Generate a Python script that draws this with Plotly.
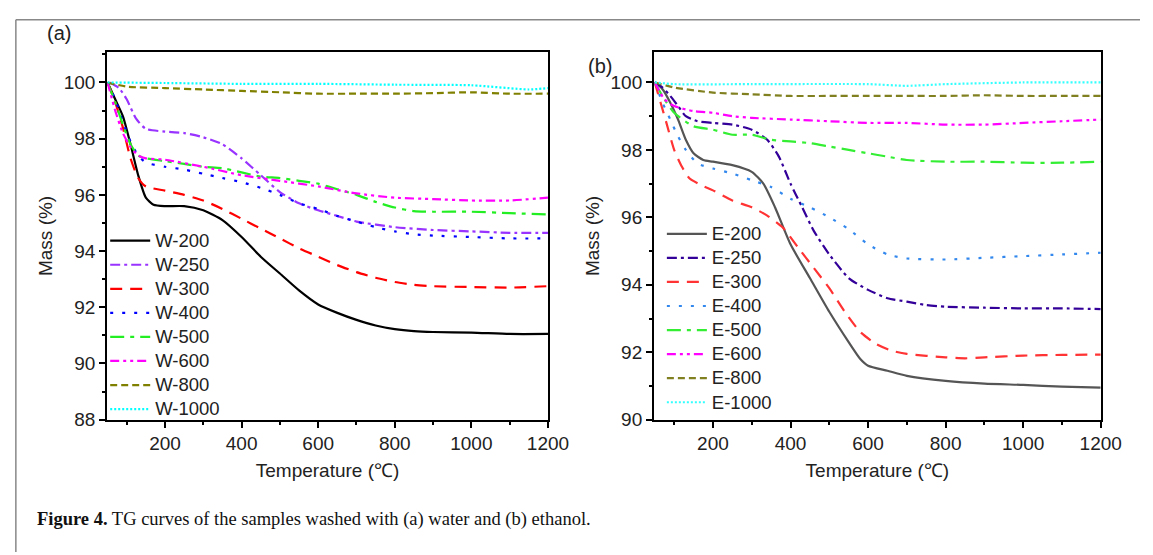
import plotly.graph_objects as go

# ---------------- data (a) water-washed ----------------
w200_t = [50, 70, 90, 110, 130, 150, 170, 200, 250, 300, 350, 400, 450, 500, 550, 600, 650, 700, 750, 800, 850, 900, 1000, 1100, 1200]
w200_m = [100, 99.4, 98.8, 97.8, 96.7, 95.9, 95.65, 95.6, 95.6, 95.45, 95.1, 94.5, 93.8, 93.2, 92.6, 92.1, 91.8, 91.55, 91.35, 91.22, 91.15, 91.12, 91.1, 91.05, 91.05]

w250_t = [55, 80, 100, 125, 150, 200, 250, 300, 350, 400, 450, 500, 550, 600, 650, 700, 800, 900, 1000, 1100, 1200]
w250_m = [100, 99.8, 99.4, 98.7, 98.35, 98.25, 98.2, 98.05, 97.8, 97.3, 96.7, 96.1, 95.7, 95.45, 95.25, 95.05, 94.85, 94.75, 94.7, 94.65, 94.65]

w300_t = [50, 70, 90, 110, 130, 150, 200, 250, 300, 350, 400, 450, 500, 550, 600, 650, 700, 750, 800, 850, 900, 1000, 1100, 1200]
w300_m = [100, 99.3, 98.4, 97.3, 96.6, 96.3, 96.15, 96.0, 95.8, 95.5, 95.15, 94.8, 94.45, 94.1, 93.8, 93.5, 93.25, 93.05, 92.9, 92.8, 92.75, 92.72, 92.7, 92.75]

w400_t = [50, 70, 90, 110, 130, 150, 200, 250, 300, 350, 400, 450, 500, 550, 600, 650, 700, 750, 800, 850, 900, 1000, 1100, 1200]
w400_m = [100, 99.4, 98.6, 97.9, 97.4, 97.15, 97.0, 96.9, 96.75, 96.6, 96.45, 96.25, 96.0, 95.7, 95.5, 95.25, 95.05, 94.85, 94.7, 94.6, 94.55, 94.5, 94.45, 94.45]

w500_t = [50, 70, 90, 110, 130, 150, 200, 250, 300, 350, 400, 450, 500, 550, 600, 650, 700, 750, 800, 850, 900, 1000, 1100, 1200]
w500_m = [100, 99.3, 98.5, 97.8, 97.4, 97.3, 97.2, 97.1, 97.0, 96.95, 96.8, 96.65, 96.6, 96.5, 96.4, 96.2, 96.0, 95.75, 95.55, 95.42, 95.4, 95.4, 95.35, 95.3]

w600_t = [50, 70, 90, 110, 130, 150, 200, 300, 400, 500, 600, 700, 800, 900, 1000, 1100, 1200]
w600_m = [100, 99.0, 98.2, 97.7, 97.4, 97.3, 97.25, 97.0, 96.7, 96.5, 96.3, 96.05, 95.9, 95.85, 95.8, 95.8, 95.9]

w800_t = [50, 100, 200, 300, 400, 500, 600, 700, 800, 900, 1000, 1100, 1200]
w800_m = [100, 99.85, 99.8, 99.75, 99.7, 99.65, 99.6, 99.6, 99.6, 99.62, 99.65, 99.6, 99.6]

w1000_t = [50, 200, 400, 600, 800, 1000, 1150, 1200]
w1000_m = [100, 99.98, 99.95, 99.95, 99.92, 99.9, 99.75, 99.8]

# ---------------- data (b) ethanol-washed ----------------
e200_t = [50, 70, 90, 110, 130, 150, 175, 200, 250, 300, 330, 360, 400, 450, 500, 550, 580, 600, 650, 700, 800, 900, 1000, 1100, 1200]
e200_m = [100, 99.8, 99.4, 98.9, 98.3, 97.9, 97.7, 97.65, 97.55, 97.35, 97.0, 96.3, 95.2, 94.2, 93.2, 92.3, 91.8, 91.6, 91.45, 91.3, 91.15, 91.07, 91.03, 90.98, 90.95]

e250_t = [50, 70, 90, 110, 130, 160, 200, 250, 300, 340, 370, 400, 430, 460, 500, 550, 600, 650, 700, 750, 800, 900, 1000, 1100, 1200]
e250_m = [100, 99.85, 99.6, 99.3, 99.0, 98.85, 98.8, 98.75, 98.6, 98.3, 97.8, 97.0, 96.3, 95.6, 94.9, 94.2, 93.85, 93.6, 93.5, 93.4, 93.35, 93.32, 93.3, 93.3, 93.28]

e300_t = [50, 65, 80, 100, 120, 140, 170, 200, 250, 300, 340, 380, 420, 460, 500, 540, 580, 620, 660, 700, 800, 850, 900, 1000, 1100, 1200]
e300_m = [100, 99.4, 98.8, 98.0, 97.5, 97.15, 96.95, 96.8, 96.5, 96.3, 96.05, 95.7, 95.1, 94.5, 93.9, 93.2, 92.6, 92.25, 92.05, 91.95, 91.85, 91.82, 91.85, 91.9, 91.92, 91.93]

e400_t = [50, 70, 90, 110, 130, 160, 200, 250, 300, 350, 400, 450, 500, 550, 600, 650, 700, 800, 900, 1000, 1100, 1200]
e400_m = [100, 99.4, 98.9, 98.4, 98.0, 97.6, 97.45, 97.3, 97.1, 96.9, 96.55, 96.3, 96.0, 95.65, 95.2, 94.9, 94.78, 94.75, 94.8, 94.85, 94.9, 94.95]

e500_t = [50, 75, 100, 150, 200, 250, 300, 350, 400, 450, 500, 550, 600, 650, 700, 800, 900, 1000, 1100, 1200]
e500_m = [100, 99.5, 99.1, 98.7, 98.6, 98.45, 98.45, 98.3, 98.25, 98.2, 98.1, 98.0, 97.9, 97.8, 97.7, 97.65, 97.65, 97.62, 97.62, 97.65]

e600_t = [50, 75, 100, 150, 200, 250, 300, 400, 500, 600, 700, 800, 900, 1000, 1100, 1200]
e600_m = [100, 99.5, 99.3, 99.15, 99.1, 99.0, 98.95, 98.9, 98.85, 98.8, 98.8, 98.75, 98.75, 98.8, 98.85, 98.9]

e800_t = [50, 100, 200, 300, 400, 500, 600, 700, 800, 900, 1000, 1100, 1200]
e800_m = [100, 99.85, 99.7, 99.65, 99.6, 99.6, 99.6, 99.6, 99.6, 99.62, 99.6, 99.6, 99.6]

e1000_t = [50, 100, 300, 600, 700, 800, 1000, 1200]
e1000_m = [100, 99.95, 99.95, 99.95, 99.9, 99.95, 100, 100]

w_labels = ["W-200", "W-250", "W-300", "W-400", "W-500", "W-600", "W-800", "W-1000"]
e_labels = ["E-200", "E-250", "E-300", "E-400", "E-500", "E-600", "E-800", "E-1000"]
x_ticks = [200, 400, 600, 800, 1000, 1200]

w_series = [(w200_t, w200_m), (w250_t, w250_m), (w300_t, w300_m), (w400_t, w400_m),
            (w500_t, w500_m), (w600_t, w600_m), (w800_t, w800_m), (w1000_t, w1000_m)]
e_series = [(e200_t, e200_m), (e250_t, e250_m), (e300_t, e300_m), (e400_t, e400_m),
            (e500_t, e500_m), (e600_t, e600_m), (e800_t, e800_m), (e1000_t, e1000_m)]

dashes = ["solid", "10px,4px,3px,4px", "12px,8px", "3px,9px", "14px,6px,4px,6px",
          "9px,4px,3px,4px,3px,4px", "7px,4px", "2px,2px"]
w_colors = ["#000000", "#9933FF", "#FF0000", "#0000FF", "#22EE22", "#FF00FF", "#808000", "#00FFFF"]
e_colors = ["#555555", "#330099", "#FF3333", "#3388EE", "#33EE33", "#FF00FF", "#808020", "#33FFFF"]

LEG_TEXT = 18.5

def leg_name(s):
    return '<span style="font-size:%gpx">%s</span>' % (LEG_TEXT, s)

fig = go.Figure()
for (t, m), name, c, d in zip(w_series, w_labels, w_colors, dashes):
    fig.add_trace(go.Scatter(x=t, y=m, name=leg_name(name), mode="lines",
                             line=dict(color=c, dash=d, width=2.2, shape="spline", smoothing=0.6),
                             xaxis="x", yaxis="y", legend="legend"))
for (t, m), name, c, d in zip(e_series, e_labels, e_colors, dashes):
    fig.add_trace(go.Scatter(x=t, y=m, name=leg_name(name), mode="lines",
                             line=dict(color=c, dash=d, width=2.2, shape="spline", smoothing=0.6),
                             xaxis="x2", yaxis="y2", legend="legend2"))

W, H = 1153, 555
def fx(px): return px / W
def fy(py): return 1 - py / H

font = "Liberation Sans, Arial, sans-serif"
axis_common = dict(showline=True, linecolor="black", linewidth=2, mirror=True,
                   ticks="outside", ticklen=6, tickwidth=2, tickcolor="black",
                   showgrid=False, zeroline=False,
                   tickfont=dict(family=font, size=19, color="#222"),
                   title_font=dict(family=font, size=19, color="#222"))
minor_x = dict(ticks="outside", ticklen=3, tickwidth=1.5, dtick=100, tick0=0, tickcolor="black")
minor_y = dict(ticks="outside", ticklen=3, tickwidth=1.5, dtick=1, tick0=0, tickcolor="black")
leg_common = dict(xanchor="left", yanchor="top", bgcolor="rgba(0,0,0,0)",
                  font=dict(family=font, size=16.2, color="#222"), tracegroupgap=0, itemwidth=40)

fig.update_layout(
    width=W, height=H, margin=dict(l=0, r=0, t=0, b=0),
    paper_bgcolor="white", plot_bgcolor="white",
    xaxis=dict(domain=[fx(101), fx(550)], range=[49, 1200], tickvals=x_ticks, minor=minor_x,
               title=dict(text="Temperature (℃)", standoff=10), anchor="y", **axis_common),
    yaxis=dict(domain=[fy(420), fy(45)], range=[88, 101.08], dtick=2, tick0=88, minor=minor_y,
               title=dict(text="Mass (%)", standoff=6), anchor="x", **axis_common),
    xaxis2=dict(domain=[fx(658), fx(1113)], range=[48, 1200], tickvals=x_ticks, minor=minor_x,
                title=dict(text="Temperature (℃)", standoff=10), anchor="y2", **axis_common),
    yaxis2=dict(domain=[fy(420), fy(45)], range=[90, 100.9], dtick=2, tick0=90, minor=minor_y,
                title=dict(text="Mass (%)", standoff=6), anchor="x2", **axis_common),
    legend=dict(x=fx(99), y=fy(220), **leg_common),
    legend2=dict(x=fx(666), y=fy(213), **leg_common),
    showlegend=True,
)

fig.add_annotation(x=fx(52), y=fy(25), xref="paper", yref="paper", xanchor="center", yanchor="middle",
                   text="(a)", showarrow=False, font=dict(family=font, size=20, color="#222"))
fig.add_annotation(x=fx(603), y=fy(59), xref="paper", yref="paper", xanchor="center", yanchor="middle",
                   text="(b)", showarrow=False, font=dict(family=font, size=20, color="#222"))
fig.add_annotation(x=fx(27), y=fy(522), xref="paper", yref="paper", xanchor="left", yanchor="middle",
                   showarrow=False,
                   text="<b>Figure 4.</b> TG curves of the samples washed with (a) water and (b) ethanol.",
                   font=dict(family="Liberation Serif, Times New Roman, serif", size=18.5, color="#111"))

# outer gray frame (top and left edges)
fig.add_shape(type="line", xref="paper", yref="paper", x0=fx(8), x1=1, y0=fy(12), y1=fy(12),
              line=dict(color="#888", width=1.5))
fig.add_shape(type="line", xref="paper", yref="paper", x0=fx(8), x1=fx(8), y0=fy(12), y1=0,
              line=dict(color="#888", width=1.5))

fig.write_html("out.html")
